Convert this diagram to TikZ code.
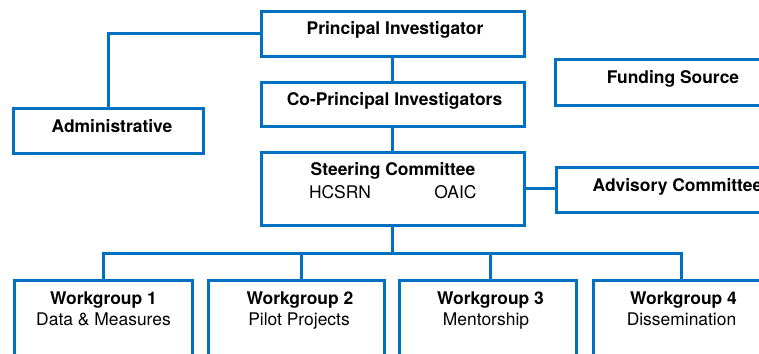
\documentclass[tikz,border=0pt]{standalone}
\usepackage{fontspec}
\setmainfont{TeX Gyre Heros}
\definecolor{lineblue}{RGB}{0,112,192}
\begin{document}
\begin{tikzpicture}[x=1bp,y=-1bp,
  box/.style={draw=lineblue,line width=3bp,fill=white,rectangle,inner sep=0pt,outer sep=0pt},
  conn/.style={draw=lineblue,line width=3bp},
  ttl/.style={anchor=base,inner sep=0pt,font=\fontsize{17.5}{21}\selectfont\bfseries},
  sub/.style={anchor=base,inner sep=0pt,font=\fontsize{17.5}{21}\selectfont}]
\useasboundingbox (0,0) rectangle (759,353);
\clip (0,0) rectangle (759,353);
% boxes
\node[box,minimum width=263bp,minimum height=45bp] (pi) at (392.5,33.5) {};
\node[box,minimum width=263bp,minimum height=44bp] (copi) at (392.5,104) {};
\node[box,minimum width=263bp,minimum height=73bp] (steer) at (392.5,188.5) {};
\node[box,minimum width=189bp,minimum height=45bp] (admin) at (108.5,130.5) {};
\node[box,minimum width=240bp,minimum height=46bp] (fund) at (675,82.5) {};
\node[box,minimum width=240bp,minimum height=45bp] (adv) at (676,190) {};
\node[box,minimum width=177bp,minimum height=140bp] (wg1) at (103.5,350) {};
\node[box,minimum width=176bp,minimum height=140bp] (wg2) at (296,350) {};
\node[box,minimum width=177bp,minimum height=140bp] (wg3) at (488,350) {};
\node[box,minimum width=177bp,minimum height=140bp] (wg4) at (681.5,350) {};
% connectors
\coordinate (bus) at (392.5,253);
\draw[conn] (pi.west) -| (admin.north);
\draw[conn] (pi.south) -- (copi.north);
\draw[conn] (copi.south) -- (steer.north);
\draw[conn] (steer.east) -- (steer.east -| adv.west);
\draw[conn] (steer.south) -- (bus);
\draw[conn] (wg1.north) -- (wg1.north |- bus) -- (wg4.north |- bus) -- (wg4.north);
\draw[conn] ([xshift=5bp]wg2.north) -- ([xshift=5bp]wg2.north |- bus);
\draw[conn] ([xshift=2bp]wg3.north) -- ([xshift=2bp]wg3.north |- bus);
% texts
\node[ttl] (tpi) at (395,34.3) {Principal Investigator};
\node[ttl] (tcopi) at (394.5,105.3) {Co-Principal Investigators};
\node[ttl] (tadmin) at (112,132.3) {Administrative};
\node[ttl] (tfund) at (673,83) {Funding Source};
\node[ttl] (tadv) at (677.5,191.7) {Advisory Committee};
\node[ttl] (tsteer) at (393,175) {Steering Committee};
\node[sub] (thc) at (340,198) {HCSRN};
\node[sub] (toa) at (455.5,198) {OAIC};
\node[ttl] (tw1) at (103.5,304) {Workgroup 1};
\node[sub] (sw1) at (103.5,325) {Data \& Measures};
\node[ttl] (tw2) at (300,304) {Workgroup 2};
\node[sub] (sw2) at (299,325) {Pilot Projects};
\node[ttl] (tw3) at (490.5,304) {Workgroup 3};
\node[sub] (sw3) at (486,325) {Mentorship};
\node[ttl] (tw4) at (683.5,304) {Workgroup 4};
\node[sub] (sw4) at (681.5,325) {Dissemination};
\end{tikzpicture}
\end{document}
